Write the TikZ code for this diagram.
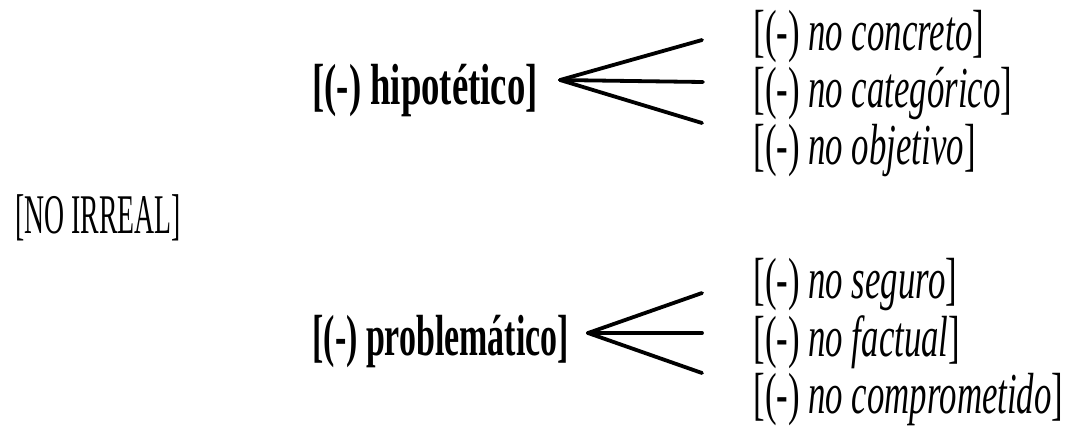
\documentclass[tikz,border=0pt]{standalone}
\usepackage{fontspec}
\setmainfont{Liberation Serif}[FakeStretch=0.6]
\newfontfamily\capsfont{Liberation Serif}[FakeStretch=0.495]
\newfontfamily\hipfont{Liberation Serif}[FakeStretch=0.633]
\newfontfamily\probfont{Liberation Serif}[FakeStretch=0.585]
\usetikzlibrary{positioning}

\begin{document}
\begin{tikzpicture}[
    x=0.5pt, y=-0.5pt,
    feat/.style={inner sep=0pt, anchor=west, font=\fontsize{29}{31}\selectfont},
    head/.style={feat, font=\fontsize{29}{31}\selectfont\bfseries},
    sub/.style={feat},
    fork/.style={line width=1.9pt, line cap=round}
  ]
    \useasboundingbox (0,0) rectangle (1068,430);

    \node[feat, font=\fontsize{28}{30}\selectfont\capsfont] (irreal) at (15,218) {[NO IRREAL]};
    \node[head] (hip) at (312,91) {\hipfont [(-) hipotético]};
    \node[head] (prob) at (312,342) {\probfont [(-) problemático]};

    \node[sub] (concreto) at (753,37) {[(-) \textit{no concreto}]};
    \node[sub] (categorico) at (753,94) {[(-) \textit{no categórico}]};
    \node[sub] (objetivo) at (753,151) {[(-) \textit{no objetivo}]};
    \node[sub] (seguro) at (753,285) {[(-) \textit{no seguro}]};
    \node[sub] (factual) at (753,342) {[(-) \textit{no factual}]};
    \node[sub] (comprometido) at (753,400) {[(-) \textit{no comprometido}]};

    % fork points
    \coordinate (hipfork) at (560,80);
    \coordinate (hipA) at (702,40);
    \coordinate (hipB) at (703,82);
    \coordinate (hipC) at (702,123);
    \coordinate (probfork) at (588,333);
    \coordinate (probA) at (702,293);
    \coordinate (probB) at (702,333);
    \coordinate (probC) at (702,373);

    \draw[fork] (hipfork) -- (hipA);
    \draw[fork] (hipfork) -- (hipB);
    \draw[fork] (hipfork) -- (hipC);
    \draw[fork] (probfork) -- (probA);
    \draw[fork] (probfork) -- (probB);
    \draw[fork] (probfork) -- (probC);
  \end{tikzpicture}
\end{document}
